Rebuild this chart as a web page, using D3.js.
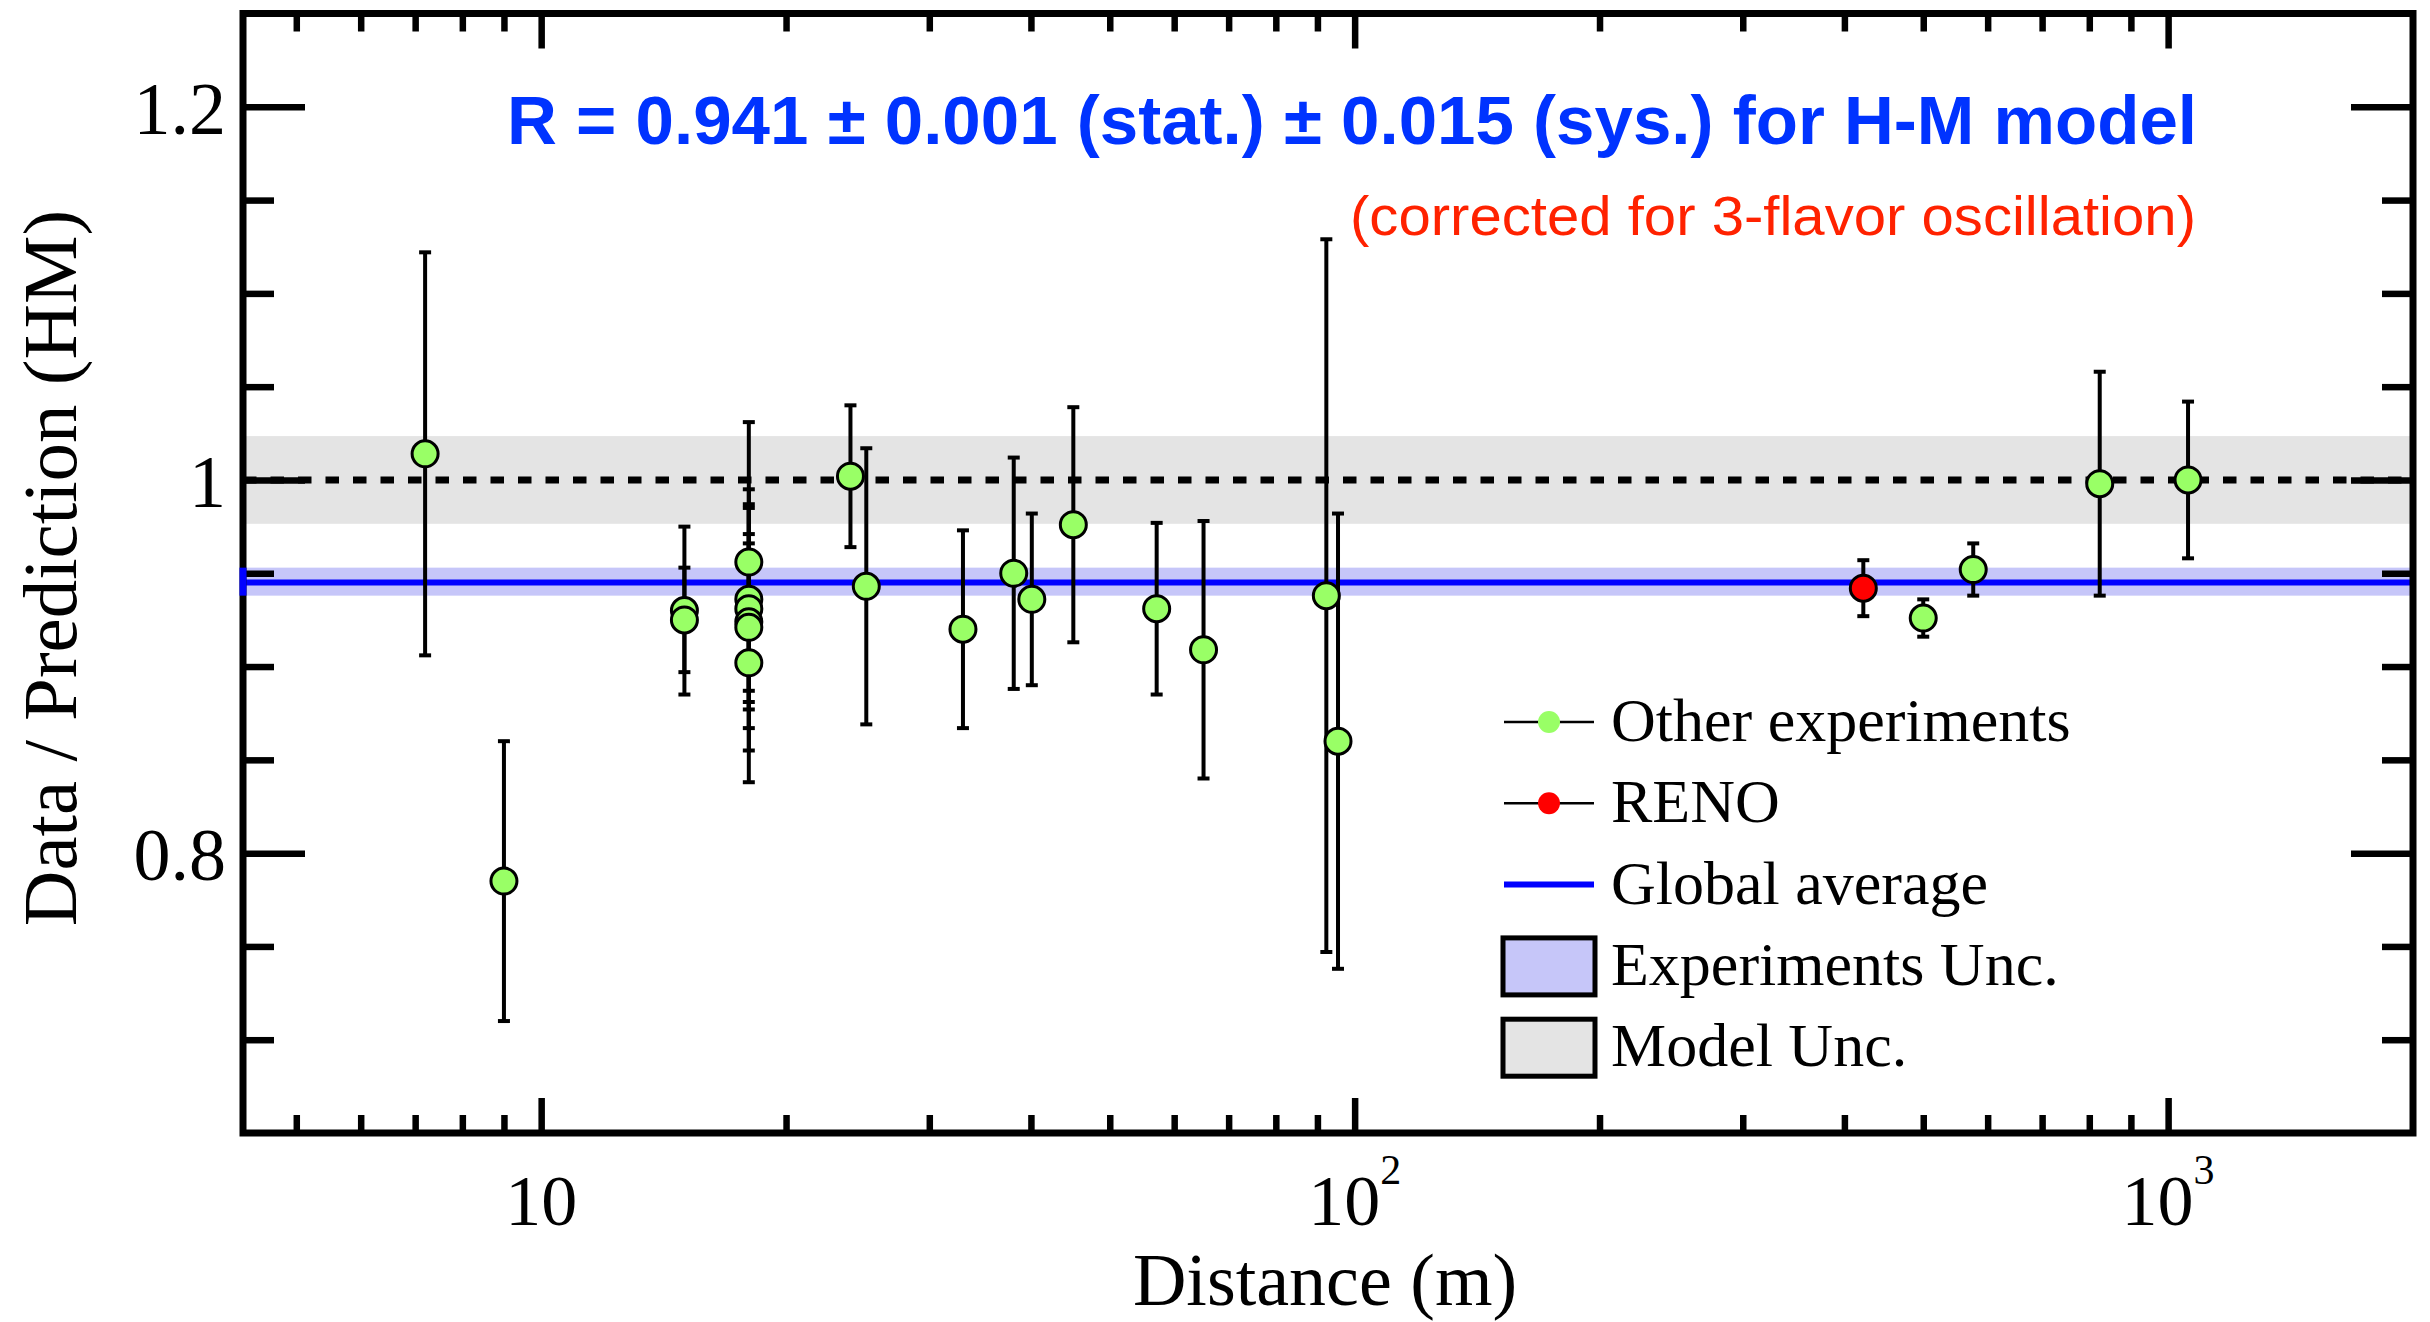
<!DOCTYPE html>
<html>
<head>
<meta charset="utf-8">
<script src="https://cdn.jsdelivr.net/npm/d3@7"></script>
<style>
  html, body { margin: 0; padding: 0; background: #ffffff; }
  svg { display: block; }
</style>
</head>
<body>
<svg id="chart" width="2430" height="1322"></svg>
<script>
// ---------------- DATA ----------------
// Other experiments: baseline distance (m), data/prediction ratio, total error
const otherDist  = [7.2, 9.0, 15.0, 15.0, 18.0, 18.0, 18.0, 18.0, 18.0, 18.0,
                    24.0, 25.1, 33.0, 38.1, 40.1, 45.1, 57.1, 65.2, 92.3, 95.4,
                    500, 576, 824, 1058];
const otherRatio = [1.014, 0.785, 0.930, 0.925, 0.956, 0.936, 0.931, 0.924, 0.921, 0.902,
                    1.002, 0.943, 0.920, 0.950, 0.936, 0.976, 0.931, 0.909, 0.938, 0.860,
                    0.926, 0.952, 0.998, 1.000];
const otherErr   = [0.108, 0.075, 0.045, 0.028, 0.075, 0.049, 0.064, 0.047, 0.066, 0.064,
                    0.038, 0.074, 0.053, 0.062, 0.046, 0.063, 0.046, 0.069, 0.191, 0.122,
                    0.010, 0.014, 0.060, 0.042];
// RENO
const renoDist  = [422];
const renoRatio = [0.942];
const renoErr   = [0.015];
// Global average and uncertainty bands
const globalAverage = [0.945];
const expUncBand    = [0.938, 0.953];
const modelUncBand  = [0.9765, 1.0235];
const referenceLine = [1.0];
// Axes
const xDomain = [4.3, 2000];
const yDomain = [0.65, 1.25];
const xMajorTicks = [10, 100, 1000];
const xMajorBase  = ["10", "10", "10"];
const xMajorSup   = ["", "2", "3"];
const xMinorTicks = [5, 6, 7, 8, 9, 20, 30, 40, 50, 60, 70, 80, 90,
                     200, 300, 400, 500, 600, 700, 800, 900];
const yMajorTicks = [0.8, 1.0, 1.2];
const yMajorLabels = ["0.8", "1", "1.2"];
const yMinorTicks = [0.70, 0.75, 0.85, 0.90, 0.95, 1.05, 1.10, 1.15];
// Texts
const xTitle = "Distance (m)";
const yTitle = "Data / Prediction (HM)";
const mainLabel = "R = 0.941 \u00B1 0.001 (stat.) \u00B1 0.015 (sys.) for H-M model";
const subLabel  = "(corrected for 3-flavor oscillation)";
const legendLabels = ["Other experiments", "RENO", "Global average", "Experiments Unc.", "Model Unc."];

// ---------------- LAYOUT ----------------
const L = 243, R = 2413, T = 13.5, B = 1133;
const serif = "'Liberation Serif', 'Times New Roman', Times, serif";
const sans  = "'Liberation Sans', Arial, Helvetica, sans-serif";
const green = "#99ff66", red = "#ff0000", blue = "#0000ff";
const bandBlue = "#c6c6f9", bandGray = "#e4e4e4";

const svg = d3.select("#chart");
const x = d3.scaleLog().domain(xDomain).range([L, R]);
const y = d3.scaleLinear().domain(yDomain).range([B, T]);

// bands
svg.append("rect").attr("x", L).attr("width", R - L)
  .attr("y", y(modelUncBand[1])).attr("height", y(modelUncBand[0]) - y(modelUncBand[1]))
  .attr("fill", bandGray);
svg.selectAll("line.ref").data(referenceLine).enter().append("line")
  .attr("x1", L).attr("x2", R).attr("y1", d => y(d)).attr("y2", d => y(d))
  .attr("stroke", "#000").attr("stroke-width", 7).attr("stroke-dasharray", "13.5,14");
svg.append("rect").attr("x", L).attr("width", R - L)
  .attr("y", y(expUncBand[1])).attr("height", y(expUncBand[0]) - y(expUncBand[1]))
  .attr("fill", bandBlue);
svg.selectAll("line.avg").data(globalAverage).enter().append("line")
  .attr("x1", L).attr("x2", R).attr("y1", d => y(d)).attr("y2", d => y(d))
  .attr("stroke", blue).attr("stroke-width", 6);

// error bars + points
function drawSeries(dist, ratio, err, fill) {
  const data = dist.map((d, i) => ({ d, r: ratio[i], e: err[i] }));
  const g = svg.append("g");
  const eb = g.selectAll("g.eb").data(data).enter().append("g");
  eb.append("line")
    .attr("x1", p => x(p.d)).attr("x2", p => x(p.d))
    .attr("y1", p => y(p.r + p.e)).attr("y2", p => y(p.r - p.e))
    .attr("stroke", "#000").attr("stroke-width", 4);
  [1, -1].forEach(s => {
    eb.append("line")
      .attr("x1", p => x(p.d) - 6).attr("x2", p => x(p.d) + 6)
      .attr("y1", p => y(p.r + s * p.e)).attr("y2", p => y(p.r + s * p.e))
      .attr("stroke", "#000").attr("stroke-width", 4);
  });
  g.selectAll("circle").data(data).enter().append("circle")
    .attr("cx", p => x(p.d)).attr("cy", p => y(p.r)).attr("r", 13)
    .attr("fill", fill).attr("stroke", "#000").attr("stroke-width", 3);
}
drawSeries(otherDist, otherRatio, otherErr, green);
drawSeries(renoDist, renoRatio, renoErr, red);

// frame
svg.append("rect").attr("x", L).attr("y", T).attr("width", R - L).attr("height", B - T)
  .attr("fill", "none").attr("stroke", "#000").attr("stroke-width", 7);

// axes ticks (inward, mirrored)
function styleAxis(g) {
  g.select(".domain").remove();
  g.selectAll(".tick line").attr("stroke", "#000").attr("stroke-width", 6.5);
  g.selectAll(".tick text").remove();
}
svg.append("g").attr("transform", `translate(0,${B})`)
  .call(d3.axisBottom(x).tickValues(xMajorTicks).tickSize(-35).tickFormat("")).call(styleAxis);
svg.append("g").attr("transform", `translate(0,${B})`)
  .call(d3.axisBottom(x).tickValues(xMinorTicks).tickSize(-18).tickFormat("")).call(styleAxis);
svg.append("g").attr("transform", `translate(0,${T})`)
  .call(d3.axisTop(x).tickValues(xMajorTicks).tickSize(-35).tickFormat("")).call(styleAxis);
svg.append("g").attr("transform", `translate(0,${T})`)
  .call(d3.axisTop(x).tickValues(xMinorTicks).tickSize(-18).tickFormat("")).call(styleAxis);
svg.append("g").attr("transform", `translate(${L},0)`)
  .call(d3.axisLeft(y).tickValues(yMajorTicks).tickSize(-62).tickFormat("")).call(styleAxis);
svg.append("g").attr("transform", `translate(${L},0)`)
  .call(d3.axisLeft(y).tickValues(yMinorTicks).tickSize(-31).tickFormat("")).call(styleAxis);
svg.append("g").attr("transform", `translate(${R},0)`)
  .call(d3.axisRight(y).tickValues(yMajorTicks).tickSize(-62).tickFormat("")).call(styleAxis);
svg.append("g").attr("transform", `translate(${R},0)`)
  .call(d3.axisRight(y).tickValues(yMinorTicks).tickSize(-31).tickFormat("")).call(styleAxis);

// blue mark at left edge of the band
svg.append("rect").attr("x", L - 3.5).attr("width", 7)
  .attr("y", y(expUncBand[1])).attr("height", y(expUncBand[0]) - y(expUncBand[1]))
  .attr("fill", blue);

// tick labels
svg.selectAll("text.ylab").data(yMajorTicks).enter().append("text")
  .attr("x", 226).attr("y", d => y(d) + 27)
  .attr("text-anchor", "end").attr("font-family", serif).attr("font-size", 74)
  .text((d, i) => yMajorLabels[i]);
const xl = svg.selectAll("text.xlab").data(xMajorTicks).enter().append("text")
  .attr("x", d => x(d)).attr("y", 1225)
  .attr("text-anchor", "middle").attr("font-family", serif).attr("font-size", 72);
xl.append("tspan").text((d, i) => xMajorBase[i]);
xl.append("tspan").attr("font-size", 42).attr("dy", -41).text((d, i) => xMajorSup[i]);

// axis titles
svg.append("text").attr("x", 1325).attr("y", 1305)
  .attr("text-anchor", "middle").attr("font-family", serif).attr("font-size", 74)
  .text(xTitle);
svg.append("text").attr("transform", "translate(76,568) rotate(-90)")
  .attr("text-anchor", "middle").attr("font-family", serif).attr("font-size", 77)
  .text(yTitle);

// annotations
svg.append("text").attr("x", 2197).attr("y", 144)
  .attr("text-anchor", "end").attr("font-family", sans).attr("font-weight", "bold")
  .attr("font-size", 68).attr("fill", "#0033ff")
  .attr("textLength", 1690).attr("lengthAdjust", "spacingAndGlyphs")
  .text(mainLabel);
svg.append("text").attr("x", 2196).attr("y", 235)
  .attr("text-anchor", "end").attr("font-family", sans)
  .attr("font-size", 56).attr("fill", "#ff2200")
  .attr("textLength", 846).attr("lengthAdjust", "spacingAndGlyphs")
  .text(subLabel);

// legend
const lgX0 = 1504, lgX1 = 1594, lgTextX = 1611, lgY0 = 722, lgStep = 81.3;
const lg = svg.append("g");
const ly = i => lgY0 + i * lgStep;
[[0, green], [1, red]].forEach(([i, c]) => {
  lg.append("line").attr("x1", lgX0).attr("x2", lgX1).attr("y1", ly(i)).attr("y2", ly(i))
    .attr("stroke", "#000").attr("stroke-width", 2.5);
  lg.append("circle").attr("cx", (lgX0 + lgX1) / 2).attr("cy", ly(i)).attr("r", 11).attr("fill", c);
});
lg.append("line").attr("x1", lgX0).attr("x2", lgX1).attr("y1", ly(2)).attr("y2", ly(2))
  .attr("stroke", blue).attr("stroke-width", 6);
[[3, bandBlue], [4, bandGray]].forEach(([i, c]) => {
  lg.append("rect").attr("x", 1503).attr("y", ly(i) - 28).attr("width", 92).attr("height", 57)
    .attr("fill", c).attr("stroke", "#000").attr("stroke-width", 5);
});
lg.selectAll("text").data(legendLabels).enter().append("text")
  .attr("x", lgTextX).attr("y", (d, i) => ly(i) + 19)
  .attr("font-family", serif).attr("font-size", 62).text(d => d);
</script>
</body>
</html>
